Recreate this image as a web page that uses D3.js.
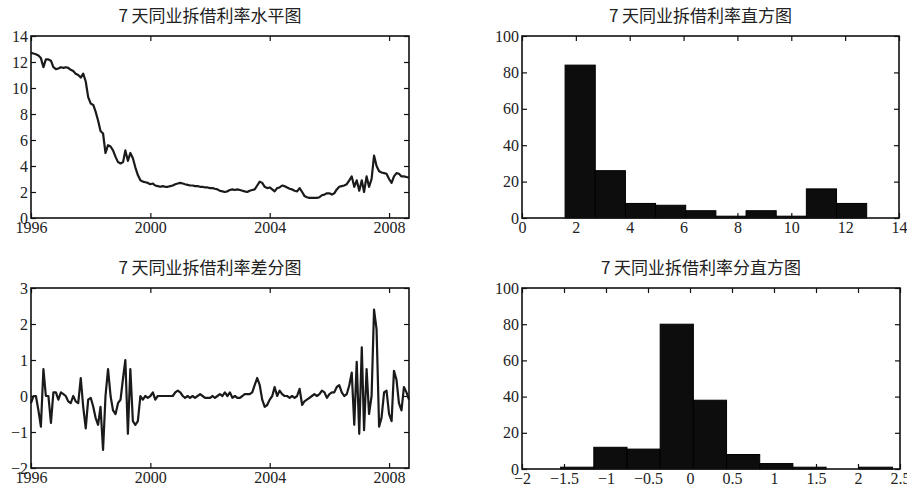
<!DOCTYPE html>
<html>
<head>
<meta charset="utf-8">
<script src="https://cdn.jsdelivr.net/npm/d3@7"></script>
<style>
  body { margin: 0; background: #fff; }
  .frame { fill: none; stroke: #111; stroke-width: 1.6; }
  .domain { display: none; }
  .tick line { stroke: #111; stroke-width: 1.2; }
</style>
</head>
<body>
<svg width="907" height="491"></svg>
<script>
// monthly 7-day interbank rate, Jan 1996 onward
var levels = [
  12.7, 12.65, 12.6, 12.5, 12.3, 11.6, 12.2, 12.2, 12.1, 11.6,
  11.45, 11.5, 11.6, 11.55, 11.6, 11.55, 11.4, 11.3, 11.1, 11.0,
  10.8, 11.1, 10.5, 9.3, 8.8, 8.7, 8.2, 7.5, 6.7, 6.5,
  5.0, 5.6, 5.5, 5.2, 4.7, 4.3, 4.2, 4.3, 5.2, 4.4,
  5.0, 4.6, 3.9, 3.3, 2.9, 2.8, 2.75, 2.7, 2.6, 2.65,
  2.5, 2.45, 2.4, 2.45, 2.4, 2.4, 2.45, 2.5, 2.6, 2.65,
  2.7, 2.65, 2.6, 2.55, 2.5, 2.5, 2.45, 2.45, 2.4, 2.4,
  2.35, 2.35, 2.3, 2.3, 2.25, 2.2, 2.1, 2.05, 2.0, 2.05,
  2.15, 2.2, 2.15, 2.2, 2.15, 2.1, 2.05, 2.0, 2.1, 2.15,
  2.2, 2.5, 2.8, 2.7, 2.4, 2.3, 2.35, 2.2, 2.05, 2.3,
  2.35, 2.5, 2.45, 2.35, 2.25, 2.2, 2.1, 2.05, 2.3, 2.0,
  1.7, 1.6, 1.55, 1.55, 1.55, 1.55, 1.6, 1.75, 1.8, 1.9,
  1.9, 1.8, 1.9, 2.2, 2.4, 2.45, 2.5, 2.6, 2.9, 3.2,
  2.4, 2.9, 2.1, 2.9, 2.0, 3.2, 2.4, 3.0, 4.8, 4.0,
  3.6, 3.5, 3.45, 3.4, 3.0, 2.7, 3.2, 3.45, 3.4, 3.2,
  3.2, 3.15, 3.1
];

// first difference series as drawn in the lower-left panel
var diffs = [
  -0.2, 0.0, 0.0, -0.4, -0.85, 0.75, 0.0, 0.0, -0.75, 0.1,
  0.1, -0.1, 0.1, 0.05, 0.0, -0.15, -0.2, 0.0, -0.15, -0.2,
  0.5, -0.3, -0.9, -0.1, -0.05, -0.3, -0.6, -0.8, -0.3, -1.5,
  0.0, 0.75, 0.0, -0.4, -0.5, -0.2, -0.1, 0.5, 1.0, -1.05,
  0.75, -0.7, -0.8, -0.7, 0.0, -0.1, 0.0, -0.05, 0.0, 0.1,
  -0.1, 0.0, 0.0, 0.0, 0.0, 0.0, 0.0, 0.0, 0.1, 0.15,
  0.1, 0.0, -0.05, 0.0, -0.05, 0.0, -0.05, 0.0, 0.05, 0.0,
  -0.05, -0.05, -0.05, 0.0, -0.05, 0.0, 0.05, 0.0, 0.1, 0.0,
  0.1, -0.05, 0.0, -0.05, -0.05, 0.0, 0.05, 0.05, 0.05, 0.1,
  0.3, 0.5, 0.3, -0.1, -0.3, -0.25, -0.1, 0.0, 0.25, 0.0,
  0.15, 0.05, 0.0, 0.0, -0.05, 0.0, -0.05, 0.0, 0.2, -0.25,
  -0.15, -0.1, -0.05, 0.0, 0.05, 0.0, 0.05, 0.15, 0.1, -0.05,
  0.05, 0.1, 0.1, 0.25, 0.3, 0.1, 0.0, 0.05, 0.3, 0.65,
  -0.8, 0.95, -1.05, 1.35, -0.95, 0.75, -0.5, 0.0, 2.4, 1.85,
  -0.85, -0.6, 0.1, 0.15, -0.5, -0.7, 0.7, 0.45, -0.2, -0.4,
  0.25, 0.1, -0.1
];

// histogram of levels
var levelEdges = [1.6, 2.72, 3.84, 4.96, 6.08, 7.2, 8.32, 9.44, 10.56, 11.68, 12.8];
var levelCounts = [84, 26, 8, 7, 4, 1, 4, 1, 16, 8];

// histogram of differences
var diffEdges = [-1.54, -1.145, -0.75, -0.355, 0.04, 0.435, 0.83, 1.225, 1.62, 2.015, 2.41];
var diffCounts = [1, 12, 11, 80, 38, 8, 3, 1, 0, 1];

var titles = ["7 天同业拆借利率水平图", "7 天同业拆借利率直方图",
              "7 天同业拆借利率差分图", "7 天同业拆借利率分直方图"];
var yearTicks = [1996, 2000, 2004, 2008];

var serif = "'Liberation Serif', 'DejaVu Serif', serif";
var svg = d3.select("svg");

function monthDate(i) { return new Date(1996, i, 1); }

function styleAxis(sel) {
  sel.attr("font-family", serif).attr("font-size", 16);
  sel.selectAll("text").attr("fill", "#222");
}

function panel(box, title, x, y, xTicks, yTicks, xFmt, yFmt) {
  var g = svg.append("g").attr("transform", "translate(" + box.left + "," + box.top + ")");
  var w = box.right - box.left, h = box.bottom - box.top;
  g.append("text")
      .attr("x", w / 2 - 10).attr("y", -14)
      .attr("text-anchor", "middle")
      .attr("font-family", "'Noto Sans CJK SC', sans-serif")
      .attr("font-size", 17)
      .attr("fill", "#222")
      .text(title);
  g.append("g").attr("transform", "translate(0," + h + ")")
      .call(d3.axisBottom(x).tickValues(xTicks).tickFormat(xFmt).tickSize(-5).tickPadding(4))
      .call(styleAxis);
  g.append("g")
      .call(d3.axisTop(x).tickValues(xTicks).tickFormat("").tickSize(-5));
  g.append("g")
      .call(d3.axisLeft(y).tickValues(yTicks).tickFormat(yFmt).tickSize(-5).tickPadding(3))
      .call(styleAxis);
  g.append("g").attr("transform", "translate(" + w + ",0)")
      .call(d3.axisRight(y).tickValues(yTicks).tickFormat("").tickSize(-5));
  return {g: g, w: w, h: h};
}

function addFrame(p) {
  p.g.append("rect").attr("class", "frame")
      .attr("width", p.w).attr("height", p.h);
}

// panel 1: levels
var b1 = {left: 31, right: 409, top: 36, bottom: 218};
var x1 = d3.scaleTime().domain([monthDate(0), monthDate(levels.length - 1)]).range([0, b1.right - b1.left]);
var y1 = d3.scaleLinear().domain([0, 14]).range([b1.bottom - b1.top, 0]);
var p1 = panel(b1, titles[0], x1, y1, yearTicks.map(function(d) { return new Date(d, 0, 1); }),
  d3.range(0, 15, 2), d3.timeFormat("%Y"), d3.format("d"));
p1.g.append("path")
    .datum(levels)
    .attr("fill", "none").attr("stroke", "#1a1a1a").attr("stroke-width", 2.2)
    .attr("stroke-linejoin", "round")
    .attr("d", d3.line().x(function(d, i) { return x1(monthDate(i)); }).y(function(d) { return y1(d); }));
addFrame(p1);

// panel 2: level histogram
var b2 = {left: 522, right: 899, top: 36, bottom: 218};
var x2 = d3.scaleLinear().domain([0, 14]).range([0, b2.right - b2.left]);
var y2 = d3.scaleLinear().domain([0, 100]).range([b2.bottom - b2.top, 0]);
var p2 = panel(b2, titles[1], x2, y2, d3.range(0, 15, 2), d3.range(0, 101, 20), d3.format("d"), d3.format("d"));
p2.g.selectAll("rect.bar").data(levelCounts).enter().append("rect")
    .attr("class", "bar")
    .attr("x", function(d, i) { return x2(levelEdges[i]); })
    .attr("width", function(d, i) { return x2(levelEdges[i + 1]) - x2(levelEdges[i]); })
    .attr("y", function(d) { return y2(d); })
    .attr("height", function(d) { return y2(0) - y2(d); })
    .attr("fill", "#0d0d0d").attr("stroke", "#000").attr("stroke-width", 1);
addFrame(p2);

// panel 3: differences
var b3 = {left: 31, right: 409, top: 288, bottom: 468};
var x3 = d3.scaleTime().domain([monthDate(0), monthDate(diffs.length - 1)]).range([0, b3.right - b3.left]);
var y3 = d3.scaleLinear().domain([-2, 3]).range([b3.bottom - b3.top, 0]);
var p3 = panel(b3, titles[2], x3, y3, yearTicks.map(function(d) { return new Date(d, 0, 1); }),
  d3.range(-2, 4, 1), d3.timeFormat("%Y"), d3.format("d"));
p3.g.append("path")
    .datum(diffs)
    .attr("fill", "none").attr("stroke", "#1a1a1a").attr("stroke-width", 2.2)
    .attr("stroke-linejoin", "round")
    .attr("d", d3.line().x(function(d, i) { return x3(monthDate(i)); }).y(function(d) { return y3(d); }));
addFrame(p3);

// panel 4: difference histogram
var b4 = {left: 522, right: 900, top: 288, bottom: 469};
var x4 = d3.scaleLinear().domain([-2, 2.5]).range([0, b4.right - b4.left]);
var y4 = d3.scaleLinear().domain([0, 100]).range([b4.bottom - b4.top, 0]);
var p4 = panel(b4, titles[3], x4, y4, d3.range(-2, 2.51, 0.5), d3.range(0, 101, 20), d3.format("~g"), d3.format("d"));
p4.g.selectAll("rect.bar").data(diffCounts).enter().append("rect")
    .attr("class", "bar")
    .attr("x", function(d, i) { return x4(diffEdges[i]); })
    .attr("width", function(d, i) { return x4(diffEdges[i + 1]) - x4(diffEdges[i]); })
    .attr("y", function(d) { return y4(d); })
    .attr("height", function(d) { return y4(0) - y4(d); })
    .attr("fill", "#0d0d0d").attr("stroke", "#000").attr("stroke-width", 1);
addFrame(p4);
</script>
</body>
</html>
